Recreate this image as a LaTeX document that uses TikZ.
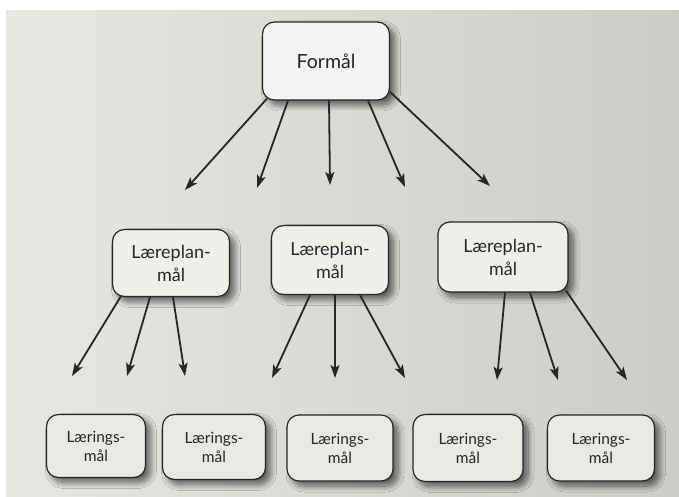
\documentclass[tikz,border=0pt]{standalone}
\usepackage{fontspec}
\setmainfont{Lato}
\usetikzlibrary{arrows.meta,shadows.blur,calc}
\definecolor{pageL}{RGB}{231,230,227}
\definecolor{pageR}{RGB}{204,204,200}
\definecolor{ink}{RGB}{38,38,38}
\definecolor{boxtop}{RGB}{243,243,241}
\definecolor{boxmid}{RGB}{238,238,235}
\definecolor{boxlow}{RGB}{232,232,229}
\begin{document}
\begin{tikzpicture}[x=1pt,y=-1pt,
  basebox/.style={draw=ink, line width=1.2pt, rounded corners=12pt, align=center, text=black!85,
    inner sep=0pt,
    blur shadow={shadow xshift=5pt, shadow yshift=-5pt, shadow blur radius=6pt, shadow blur steps=12, shadow opacity=60}},
  topbox/.style={basebox, fill=boxtop, font=\fontsize{19.5}{22}\selectfont},
  midbox/.style={basebox, fill=boxmid, font=\fontsize{18}{23}\selectfont},
  lowbox/.style={basebox, fill=boxlow, font=\fontsize{15.5}{19}\selectfont},
  arr/.style={draw=ink, line width=1.8pt, -{Stealth[length=13pt,width=9pt,inset=3pt]}}
]
\useasboundingbox (0,0) rectangle (679,497);
\fill[white] (0,0) rectangle (679,497);
\shade[left color=pageL, right color=pageR] (6,11) rectangle (679,497);

% nodes
\node[topbox, minimum width=127pt, minimum height=78pt] (F) at (326,61) {Formål};

\node[midbox, minimum width=117pt, minimum height=67pt] (L1) at (171,263) {Læreplan-\\mål};
\node[midbox, minimum width=117pt, minimum height=69pt] (L2) at (330,260) {Læreplan-\\mål};
\node[midbox, minimum width=130pt, minimum height=70pt] (L3) at (503,257) {Læreplan-\\mål};

\node[lowbox, minimum width=99pt, minimum height=63pt] (B1) at (96,446) {Lærings-\\mål};
\node[lowbox, minimum width=103pt, minimum height=65pt] (B2) at (214,447) {Lærings-\\mål};
\node[lowbox, minimum width=106pt, minimum height=66pt] (B3) at (340,448) {Lærings-\\mål};
\node[lowbox, minimum width=110pt, minimum height=67pt] (B4) at (468,448) {Lærings-\\mål};
\node[lowbox, minimum width=107pt, minimum height=66pt] (B5) at (601,448) {Lærings-\\mål};

% arrow tips
\coordinate (f1) at (185,190);
\coordinate (f2) at (257,188);
\coordinate (f3) at (330,185);
\coordinate (f4) at (405,187);
\coordinate (f5) at (490,186);

\coordinate (a1) at (72,376);
\coordinate (a2) at (127,376);
\coordinate (a3) at (185,376);
\coordinate (b1) at (272,378);
\coordinate (b2) at (335,378);
\coordinate (b3) at (405,378);
\coordinate (c1) at (497,380);
\coordinate (c2) at (558,380);
\coordinate (c3) at (627,380);

% arrows from Formål
\draw[arr] ($(F.south)+(-59,-2)$) -- (f1);
\draw[arr] ($(F.south)+(-38,0)$) -- (f2);
\draw[arr] ($(F.south)+(3,0)$) -- (f3);
\draw[arr] ($(F.south)+(42,0)$) -- (f4);
\draw[arr] ($(F.east)+(0,31)$) -- (f5);

% arrows from Læreplanmål
\draw[arr] ($(L1.south)+(-50,-1)$) -- (a1);
\draw[arr] ($(L1.south)+(-21,0)$) -- (a2);
\draw[arr] ($(L1.south)+(2,0)$) -- (a3);

\draw[arr] ($(L2.south)+(-20,0)$) -- (b1);
\draw[arr] ($(L2.south)+(5,0)$) -- (b2);
\draw[arr] ($(L2.south)+(30,0)$) -- (b3);

\draw[arr] ($(L3.south)+(2,0)$) -- (c1);
\draw[arr] ($(L3.south)+(27,0)$) -- (c2);
\draw[arr] ($(L3.south)+(63,-2)$) -- (c3);
\end{tikzpicture}
\end{document}
